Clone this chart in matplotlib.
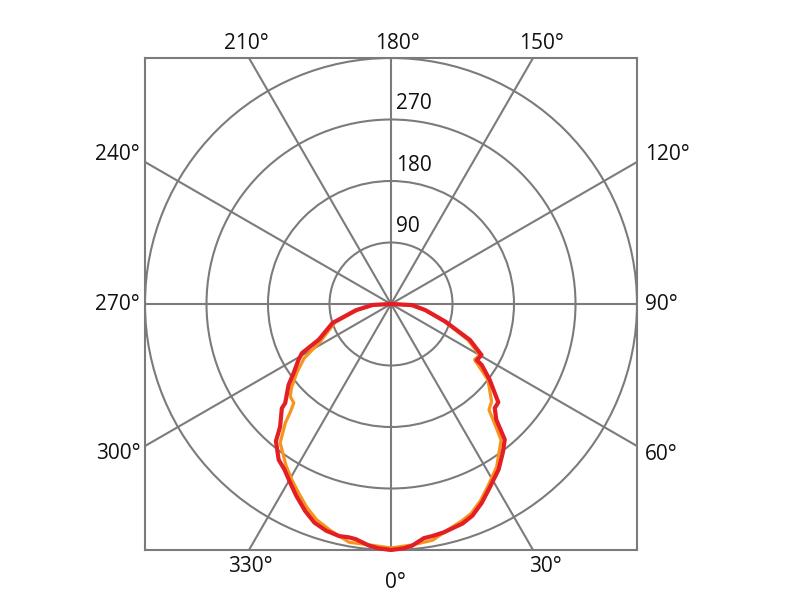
import numpy as np
import matplotlib
matplotlib.use("Agg")
import matplotlib.pyplot as plt
from matplotlib.patches import Circle

# ---- data (angle in degrees, 0 at bottom, counter-clockwise) ----
red_theta = [-90, -87, -80, -72, -63.7, -61.1, -58.9, -54.6, -51.7, -46.9, -46.3,
             -42.1, -40, -35.8, -32.8, -29.5, -26.3, -22.5, -19.3, -16, -12.6, -10.2,
             -8.5, -5.2, -3, 0, 3, 5, 8, 10, 13, 18, 21, 24.5, 28, 33, 37, 40, 42.3,
             44.9, 47.5, 52.5, 56.1, 56.8, 60.6, 65.5, 72, 80, 87, 90]
red_r = [0, 27, 52, 90, 118, 149, 158, 175, 191, 212, 221,
         242, 262, 281, 288, 300, 313, 328, 339, 345, 348, 347,
         348, 355, 358, 360, 358, 355, 346, 345, 343, 338, 332, 320, 306, 289, 272, 259, 229,
         215, 213, 182, 160, 150, 152, 127, 84, 51, 31, 0]

orange_theta = [-90, -87, -80, -72, -62, -58, -54, -50, -47.5, -44.5, -43, -41.6,
                -38.6, -33, -29.5, -26, -22.5, -19, -15, -10, -5, 0, 5, 10, 14, 18, 21,
                24.5, 28, 33, 39, 41.4, 42.8, 45.9, 52, 56.3, 60, 65, 72, 80, 87, 90]
orange_r = [0, 25, 49, 86, 117, 150, 170, 190, 200, 203, 216, 233,
            260, 282, 295, 308, 322, 334, 343, 354, 354, 357, 354, 351, 341, 334, 328,
            316, 302, 284, 256, 226, 211, 205, 180, 147, 150, 124, 82, 49, 28, 0]

ring_values = [90, 180, 270, 360]
ring_labels = ["90", "180", "270"]
spoke_angles = list(range(0, 360, 30))
angle_labels = [f"{a}°" for a in spoke_angles]

# ---- layout ----
GRID = "#7b7b7b"
FONT = ["Open Sans", "DejaVu Sans"]
FS = 15

fig = plt.figure(figsize=(8, 6), dpi=100)
ax = fig.add_axes([145 / 800, 50 / 600, 492 / 800, 492 / 600])
ax.set_xlim(-360, 360)
ax.set_ylim(-360, 360)
ax.set_xticks([])
ax.set_yticks([])
for s in ax.spines.values():
    s.set_color(GRID)
    s.set_linewidth(1.5)


def to_xy(theta_deg, r):
    t = np.deg2rad(np.asarray(theta_deg, dtype=float))
    r = np.asarray(r, dtype=float)
    return r * np.sin(t), -r * np.cos(t)


# rings
for rv in ring_values:
    ax.add_patch(Circle((0, 0), rv, fill=False, edgecolor=GRID, linewidth=1.5, zorder=1))

# spokes (clipped at the square frame)
for a in spoke_angles:
    x, y = to_xy([a, a], [0, 700])
    ax.plot(x, y, color=GRID, linewidth=1.5, zorder=1)

# curves
ox, oy = to_xy(orange_theta, orange_r)
ax.plot(ox, oy, color="#f7941d", linewidth=2.3, zorder=3, clip_on=False,
        solid_joinstyle="round")
rx, ry = to_xy(red_theta, red_r)
ax.plot(rx, ry, color="#e31e24", linewidth=3.0, zorder=4, clip_on=False,
        solid_joinstyle="round")

# radial labels
for rv, lab in zip(ring_values[:3], ring_labels):
    ax.text(7, rv + 23, lab, ha="left", va="center", fontsize=FS, family=FONT,
            color="#111111", zorder=5)

# angle labels
label_pos = {
    0: (7, -408, "center"), 30: (226, -384, "center"), 60: (372, -220, "left"),
    90: (372, 0, "left"), 120: (372, 219, "left"), 150: (220, 381, "center"),
    180: (9, 381, "center"), 210: (-211, 381, "center"), 240: (-367, 219, "right"),
    270: (-367, 0, "right"), 300: (-367, -219, "right"), 330: (-206, -384, "center"),
}
for a, lab in zip(spoke_angles, angle_labels):
    x, y, ha = label_pos[a]
    ax.text(x, y, lab, ha=ha, va="center", fontsize=FS, family=FONT,
            color="#111111", clip_on=False)

fig.savefig("out.png", dpi=100)
